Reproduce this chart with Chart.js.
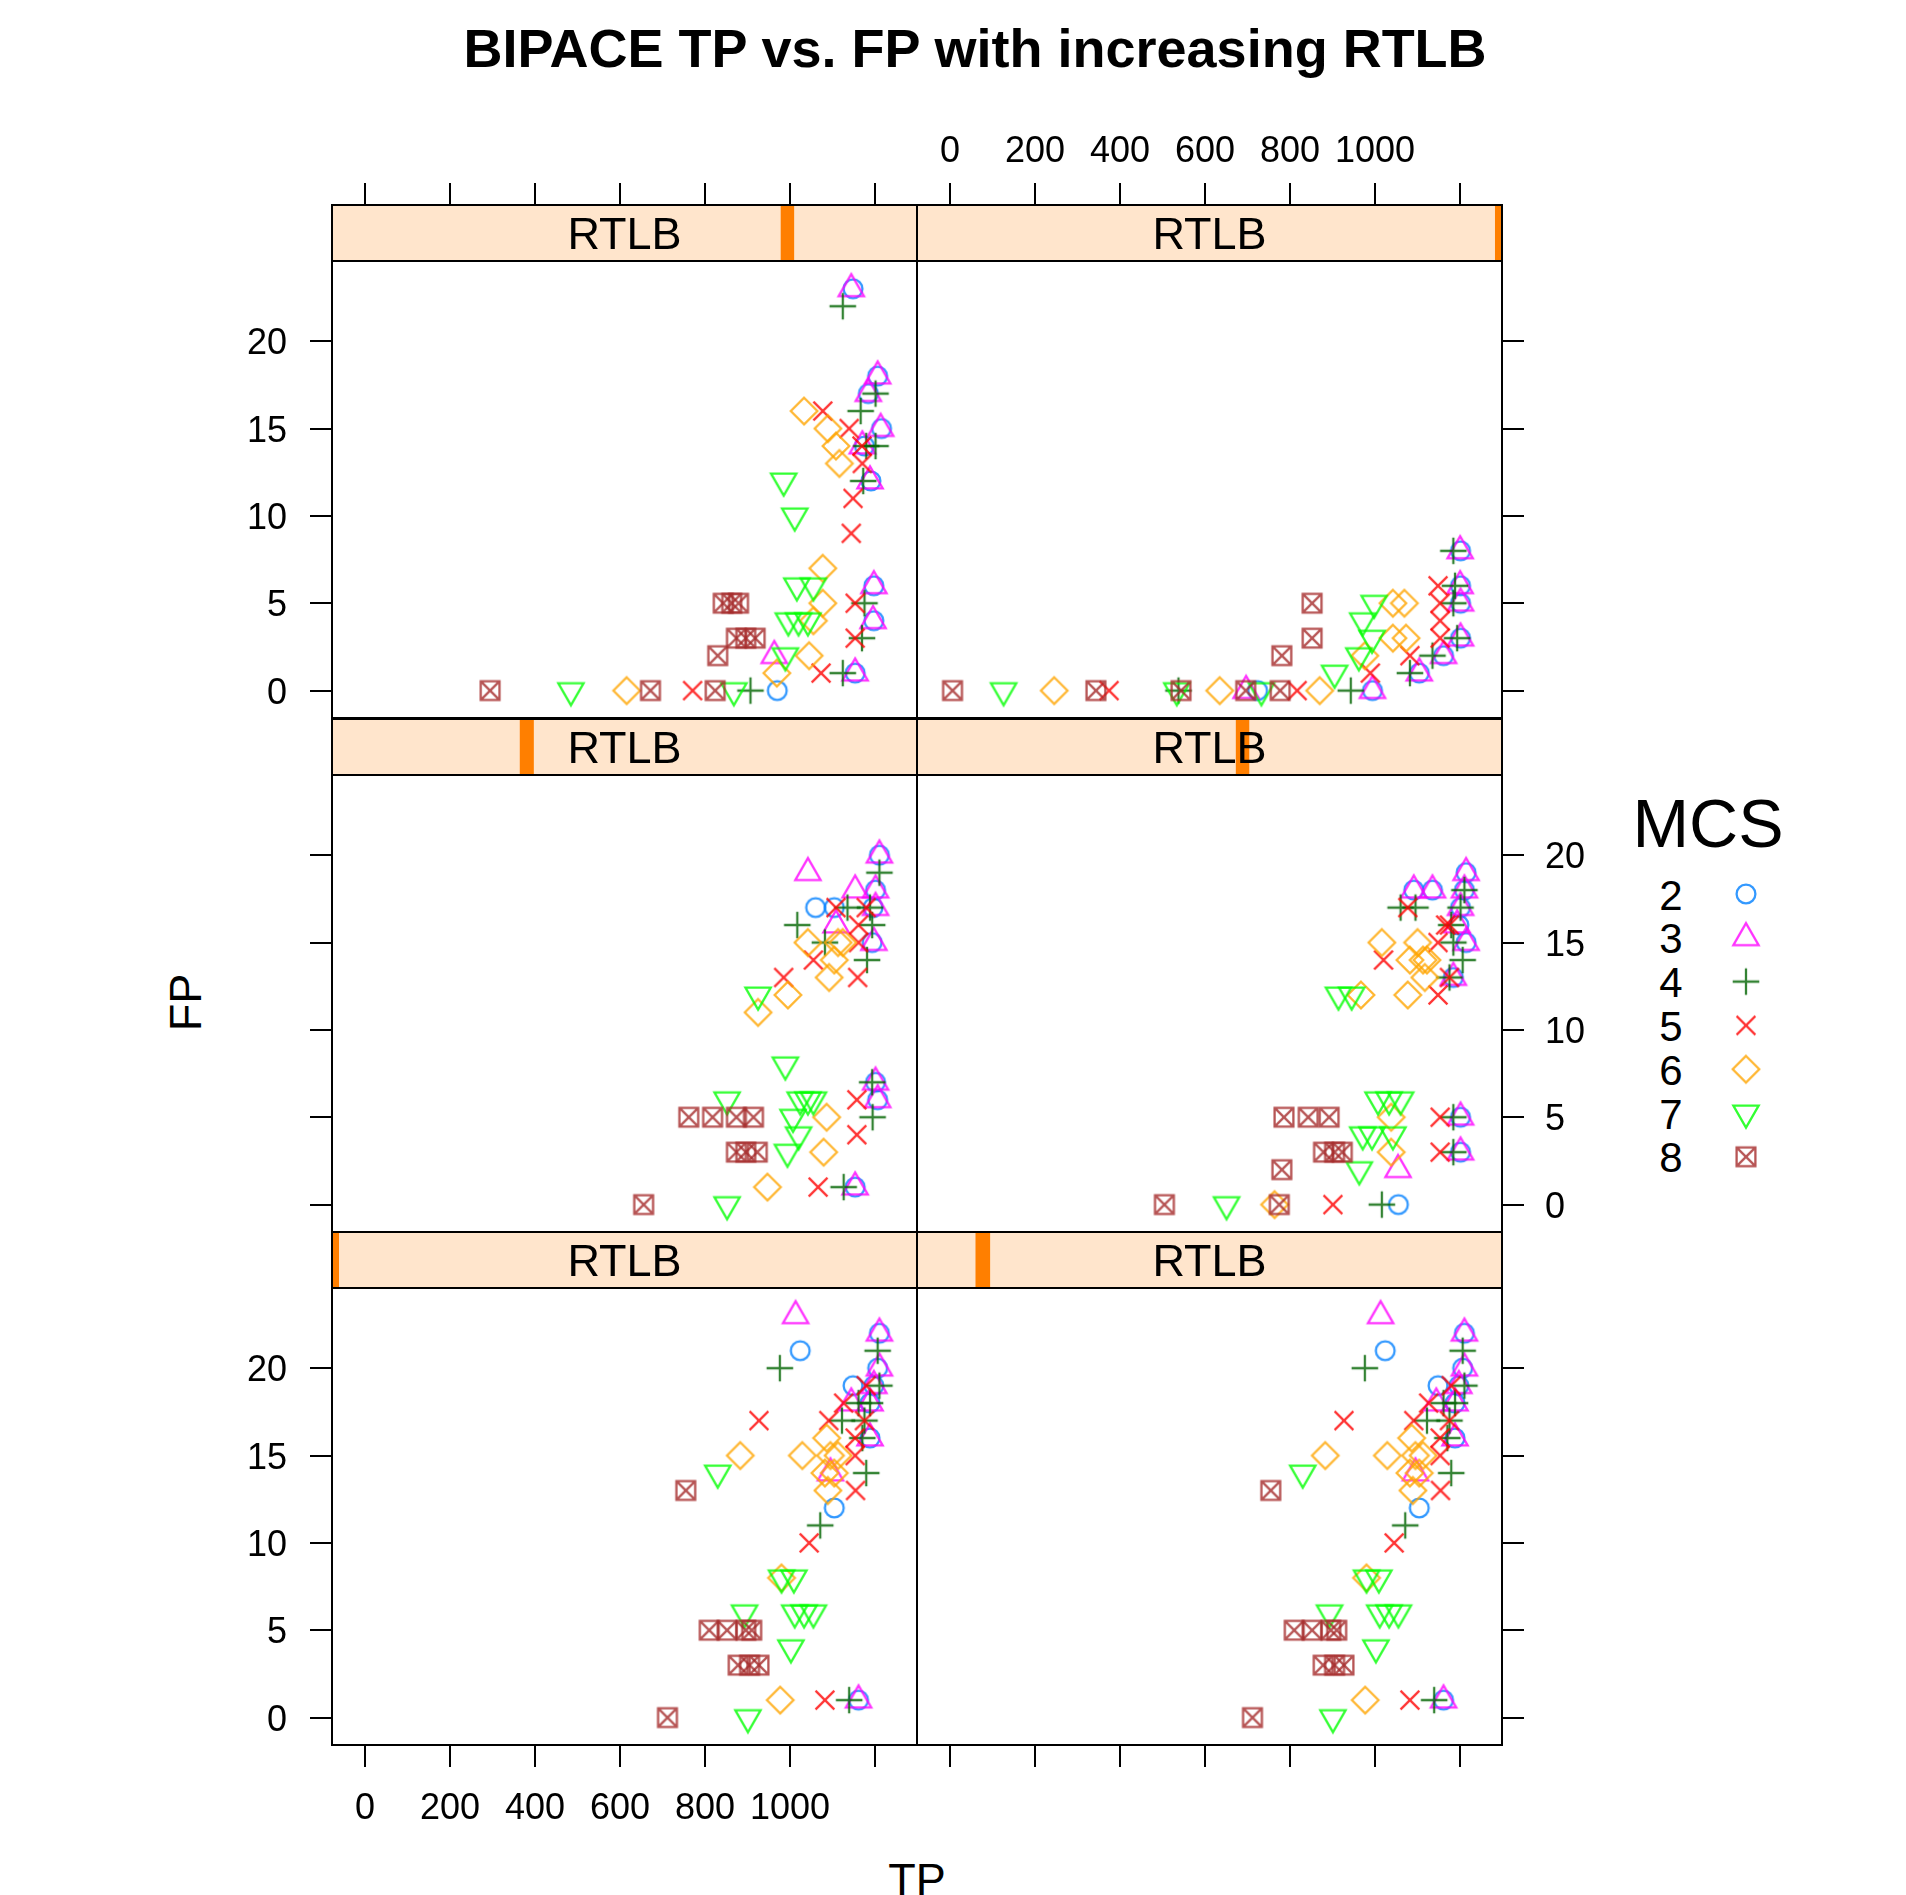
<!DOCTYPE html>
<html lang="en">
<head>
<meta charset="UTF-8">
<title>BIPACE TP vs. FP with increasing RTLB</title>
<script src="https://cdn.jsdelivr.net/npm/chart.js"></script>
<style>
  body { margin: 0; background: #fff; width: 1906px; height: 1895px; position: relative; overflow: hidden;
         font-family: "Liberation Sans", Arial, Helvetica, sans-serif; }
  .txt { position: absolute; line-height: 1; white-space: nowrap; color: #000; text-align: center; }
  canvas { position: absolute; }
</style>
</head>
<body>

<div class="txt" style="left:375px; top:21px; width:1200px; font-size:54px; font-weight:bold;">BIPACE TP vs. FP with increasing RTLB</div>
<div class="txt" style="left:817px; top:1857px; width:200px; font-size:45px;">TP</div>
<div class="txt" style="left:85px; top:980px; width:200px; height:45px; font-size:45px; transform:rotate(-90deg);">FP</div>
<div class="txt" style="left:1608px; top:789px; width:200px; font-size:68px;">MCS</div>
<div id="legendText"></div>
<canvas id="legendKeys" width="60" height="320" style="left:1716px; top:864px;"></canvas>

<script>
// ---- data: each entry is [TP, FP] ----
const mcsLevels = [2, 3, 4, 5, 6, 7, 8];
const tpTicks = [0, 200, 400, 600, 800, 1000, 1200];
const tpTickLabels = ['0', '200', '400', '600', '800', '1000', ''];
const fpTicks = [0, 5, 10, 15, 20];

// top-left panel
const tl2 = [[970,0],[1148,23],[1206,18],[1184,17],[1215,15],[1175,14],[1190,12],[1197,6],[1197,4],[1153,1]];
const tl3 = [[1144,23],[1206,18],[1184,17],[1213,15],[1170,14],[1188,12],[1197,6],[1195,4],[1153,1],[963,2]];
const tl4 = [[1124,22],[1201,17],[1166,16],[1201,14],[1179,14],[1172,12],[1175,5],[1169,3],[1124,1],[907,0]];
const tl5 = [[1077,16],[1139,15],[1169,14],[1170,13],[1148,11],[1144,9],[1153,5],[1153,3],[1073,1],[771,0]];
const tl6 = [[1033,16],[1089,15],[1108,14],[1116,13],[1077,7],[1077,5],[1055,4],[1045,2],[969,1],[616,0]];
const tl7 = [[985,12],[1011,10],[1016,6],[1055,6],[996,4],[1020,4],[1042,4],[989,2],[868,0],[485,0]];
const tl8 = [[843,5],[863,5],[879,5],[874,3],[896,3],[918,3],[830,2],[824,0],[672,0],[295,0]];

// top-right panel
const tr2 = [[724,0],[994,0],[1104,1],[1161,2],[1201,3],[1201,5],[1201,6],[1201,8]];
const tr3 = [[697,0],[994,0],[1104,1],[1161,2],[1201,3],[1201,5],[1200,6],[1200,8]];
const tr4 = [[538,0],[943,0],[1082,1],[1135,2],[1193,3],[1184,5],[1188,6],[1184,8]];
const tr5 = [[375,0],[817,0],[989,1],[1082,2],[1153,3],[1153,4],[1153,5],[1148,6]];
const tr6 = [[246,0],[635,0],[870,0],[976,2],[1042,3],[1073,3],[1042,5],[1069,5]];
const tr7 = [[127,0],[534,0],[733,0],[905,1],[962,2],[993,3],[971,4],[998,5]];
const tr8 = [[7,0],[344,0],[544,0],[696,0],[777,0],[781,2],[852,3],[852,5]];

// middle-left panel
const ml2 = [[1060,17],[1104,17],[1210,20],[1201,18],[1195,17],[1193,15],[1201,7],[1206,6],[1153,1]];
const ml3 = [[1042,19],[1210,20],[1153,18],[1201,18],[1201,17],[1108,16],[1197,15],[1201,7],[1206,6],[1153,1]];
const ml4 = [[1210,19],[1135,17],[1188,17],[1017,16],[1193,16],[1082,15],[1181,14],[1193,7],[1194,5],[1126,1]];
const ml5 = [[1108,17],[1179,17],[1161,16],[1161,15],[1055,14],[1159,13],[985,13],[1157,6],[1157,4],[1066,1]];
const ml6 = [[1042,15],[1113,15],[1124,15],[1104,14],[1092,13],[995,12],[925,11],[1086,5],[1079,3],[947,1]];
const ml7 = [[925,12],[989,8],[852,6],[1024,6],[1042,6],[1055,6],[1007,5],[1020,4],[994,3],[852,0]];
const ml8 = [[762,5],[818,5],[874,5],[914,5],[874,3],[896,3],[923,3],[656,0]];

// middle-right panel
const mr2 = [[1214,19],[1091,18],[1135,18],[1210,18],[1201,17],[1197,16],[1214,15],[1184,13],[1201,5],[1201,3],[1055,0]];
const mr3 = [[1214,19],[1091,18],[1135,18],[1210,18],[1201,17],[1193,16],[1214,15],[1184,13],[1201,5],[1201,3],[1054,2]];
const mr4 = [[1060,17],[1095,17],[1210,18],[1201,17],[1179,16],[1184,15],[1206,14],[1175,13],[1184,5],[1184,3],[1016,0]];
const mr5 = [[1077,17],[1175,16],[1166,16],[1148,15],[1020,14],[1175,13],[1148,12],[1153,5],[1153,3],[901,0]];
const mr6 = [[1016,15],[1100,15],[1082,14],[1113,14],[1122,14],[1117,13],[1077,12],[967,12],[1038,5],[1038,3],[764,0]];
const mr7 = [[914,12],[945,12],[1007,6],[1033,6],[1060,6],[971,4],[993,4],[1042,4],[963,2],[651,0]];
const mr8 = [[786,5],[843,5],[892,5],[879,3],[905,3],[923,3],[781,2],[775,0],[505,0]];

// bottom row (both bottom panels show the same points)
const bt2 = [[1024,21],[1210,22],[1206,20],[1148,19],[1197,19],[1188,18],[1188,16],[1104,12],[1161,1]];
const bt3 = [[1013,23],[1210,22],[1210,20],[1197,19],[1144,18],[1188,18],[1188,16],[1095,14],[1161,1]];
const bt4 = [[976,20],[1206,21],[1210,19],[1188,18],[1161,18],[1122,17],[1175,17],[1170,16],[1179,14],[1071,11],[1139,1]];
const bt5 = [[927,17],[1091,17],[1126,18],[1179,19],[1175,17],[1153,16],[1153,15],[1154,13],[1045,10],[1082,1]];
const bt6 = [[883,15],[1029,15],[1086,16],[1113,15],[1095,15],[1082,14],[1104,14],[1089,13],[980,8],[977,1]];
const bt7 = [[830,14],[980,8],[1009,8],[893,6],[1011,6],[1033,6],[1055,6],[1002,4],[901,0]];
const bt8 = [[755,13],[810,5],[852,5],[896,5],[910,5],[878,3],[905,3],[927,3],[712,0]];

// shingle bar in each strip, as fraction of strip width (panel order: BL, BR, ML, MR, TL, TR)
const rtlbBar = [[0.0,0.012],[0.100,0.125],[0.321,0.345],[0.545,0.568],[0.767,0.790],[0.988,1.0]];

// ---- layout ----
const COL_X = [332, 917], PLOT_W = 585;
const ROW_Y = [205, 719, 1232], STRIP_H = 56, PLOT_H = 457;
const M = 130;
const X_MIN = -76.5, X_MAX = 1298.4, Y_MIN = -1.57, Y_MAX = 24.59;
const FONT = '"Liberation Sans", Arial, Helvetica, sans-serif';

const symColors = ['rgba(0,128,255,0.8)', 'rgba(255,0,255,0.8)', 'rgba(0,100,0,0.8)',
  'rgba(255,0,0,0.8)', 'rgba(255,165,0,0.8)', 'rgba(0,255,0,0.8)', 'rgba(165,42,42,0.8)'];

// lattice pch 1..7
function makeSymbol(k, color) {
  const c = document.createElement('canvas');
  c.width = c.height = 40;
  const g = c.getContext('2d');
  g.strokeStyle = color;
  g.lineWidth = 2.3;
  const x = 20, y = 20, r = 9.4, h = 1.414 * r;
  g.beginPath();
  if (k === 0) g.arc(x, y, r, 0, 2 * Math.PI);
  if (k === 1) { g.moveTo(x, y - 1.555*r); g.lineTo(x + 1.347*r, y + 0.778*r); g.lineTo(x - 1.347*r, y + 0.778*r); g.closePath(); }
  if (k === 2) { g.moveTo(x-h, y); g.lineTo(x+h, y); g.moveTo(x, y-h); g.lineTo(x, y+h); }
  if (k === 3) { g.moveTo(x-r, y-r); g.lineTo(x+r, y+r); g.moveTo(x-r, y+r); g.lineTo(x+r, y-r); }
  if (k === 4) { g.moveTo(x, y-h); g.lineTo(x+h, y); g.lineTo(x, y+h); g.lineTo(x-h, y); g.closePath(); }
  if (k === 5) { g.moveTo(x, y + 1.555*r); g.lineTo(x + 1.347*r, y - 0.778*r); g.lineTo(x - 1.347*r, y - 0.778*r); g.closePath(); }
  if (k === 6) { g.rect(x-r, y-r, 2*r, 2*r); g.moveTo(x-r, y-r); g.lineTo(x+r, y+r); g.moveTo(x-r, y+r); g.lineTo(x+r, y-r); }
  g.stroke();
  return c;
}
const symbols = mcsLevels.map((m, i) => makeSymbol(i, symColors[i]));

// text centred vertically on y (digits / capitals)
function centredText(ctx, s, x, y, size) {
  ctx.fillText(s, x, y + 0.358 * size);
}

// strip, frame, ticks and tick labels for one panel
const panelDeco = {
  id: 'panelDeco',
  afterDraw(chart, args, opts) {
    const { ctx, chartArea: a, scales: { x, y } } = chart;
    const w = a.right - a.left, sTop = a.top - STRIP_H;
    ctx.save();
    ctx.fillStyle = '#ffe5cc';
    ctx.fillRect(a.left, sTop, w, STRIP_H);
    ctx.fillStyle = '#ff7f00';
    ctx.fillRect(a.left + opts.bar[0] * w, sTop, (opts.bar[1] - opts.bar[0]) * w, STRIP_H);
    ctx.fillStyle = '#000';
    ctx.font = '45px ' + FONT;
    ctx.textAlign = 'center';
    ctx.textBaseline = 'alphabetic';
    centredText(ctx, 'RTLB', (a.left + a.right) / 2, sTop + STRIP_H / 2, 45);

    ctx.strokeStyle = '#000';
    ctx.lineWidth = 2;
    ctx.strokeRect(a.left, sTop, w, STRIP_H);
    ctx.strokeRect(a.left, a.top, w, a.bottom - a.top);

    ctx.font = '36px ' + FONT;
    ctx.beginPath();
    tpTicks.forEach((v, i) => {
      const px = Math.round(x.getPixelForValue(v));
      if (opts.row === 0) {
        ctx.moveTo(px, sTop); ctx.lineTo(px, sTop - 22);
        if (opts.col === 1) centredText(ctx, tpTickLabels[i], px, sTop - 56, 36);
      }
      if (opts.row === 2) {
        ctx.moveTo(px, a.bottom); ctx.lineTo(px, a.bottom + 22);
        if (opts.col === 0) centredText(ctx, tpTickLabels[i], px, a.bottom + 61, 36);
      }
    });
    fpTicks.forEach(v => {
      const py = Math.round(y.getPixelForValue(v));
      if (opts.col === 0) {
        ctx.moveTo(a.left, py); ctx.lineTo(a.left - 22, py);
        if (opts.row !== 1) { ctx.textAlign = 'right'; centredText(ctx, String(v), a.left - 45, py, 36); }
      } else {
        ctx.moveTo(a.right, py); ctx.lineTo(a.right + 22, py);
        if (opts.row === 1) { ctx.textAlign = 'left'; centredText(ctx, String(v), a.right + 43, py, 36); }
      }
    });
    ctx.stroke();
    ctx.restore();
  }
};

const panels = [
  { row: 0, col: 0, sets: [tl2, tl3, tl4, tl5, tl6, tl7, tl8], bar: rtlbBar[4] },
  { row: 0, col: 1, sets: [tr2, tr3, tr4, tr5, tr6, tr7, tr8], bar: rtlbBar[5] },
  { row: 1, col: 0, sets: [ml2, ml3, ml4, ml5, ml6, ml7, ml8], bar: rtlbBar[2] },
  { row: 1, col: 1, sets: [mr2, mr3, mr4, mr5, mr6, mr7, mr8], bar: rtlbBar[3] },
  { row: 2, col: 0, sets: [bt2, bt3, bt4, bt5, bt6, bt7, bt8], bar: rtlbBar[0] },
  { row: 2, col: 1, sets: [bt2, bt3, bt4, bt5, bt6, bt7, bt8], bar: rtlbBar[1] }
];

panels.forEach(p => {
  const cv = document.createElement('canvas');
  cv.width = PLOT_W + 2 * M;
  cv.height = STRIP_H + PLOT_H + 2 * M;
  cv.style.left = (COL_X[p.col] - M) + 'px';
  cv.style.top = (ROW_Y[p.row] - M) + 'px';
  document.body.appendChild(cv);

  new Chart(cv, {
    type: 'scatter',
    data: {
      datasets: p.sets.map((arr, i) => ({
        label: String(mcsLevels[i]),
        data: arr.map(([tp, fp]) => ({ x: tp, y: fp })),
        pointStyle: symbols[i],
        pointRadius: 10,
        pointHoverRadius: 10,
        order: mcsLevels.length - i
      }))
    },
    options: {
      responsive: false,
      animation: false,
      devicePixelRatio: 1,
      events: [],
      layout: { padding: { left: M, right: M, top: M + STRIP_H, bottom: M } },
      plugins: {
        legend: { display: false },
        tooltip: { enabled: false },
        panelDeco: { row: p.row, col: p.col, bar: p.bar }
      },
      scales: {
        x: { type: 'linear', min: X_MIN, max: X_MAX, display: false },
        y: { type: 'linear', min: Y_MIN, max: Y_MAX, display: false }
      }
    },
    plugins: [panelDeco]
  });
});

// legend
const legendText = document.getElementById('legendText');
const lg = document.getElementById('legendKeys').getContext('2d');
mcsLevels.forEach((m, i) => {
  const d = document.createElement('div');
  d.className = 'txt';
  d.style.cssText = `left:${1671 - 40}px; top:${(910 + 43.8 * i - 35.5).toFixed(1)}px; width:80px; font-size:42px;`;
  d.textContent = m;
  legendText.appendChild(d);
  lg.drawImage(symbols[i], 10, 30 + 43.8 * i - 20);
});
</script>
</body>
</html>
